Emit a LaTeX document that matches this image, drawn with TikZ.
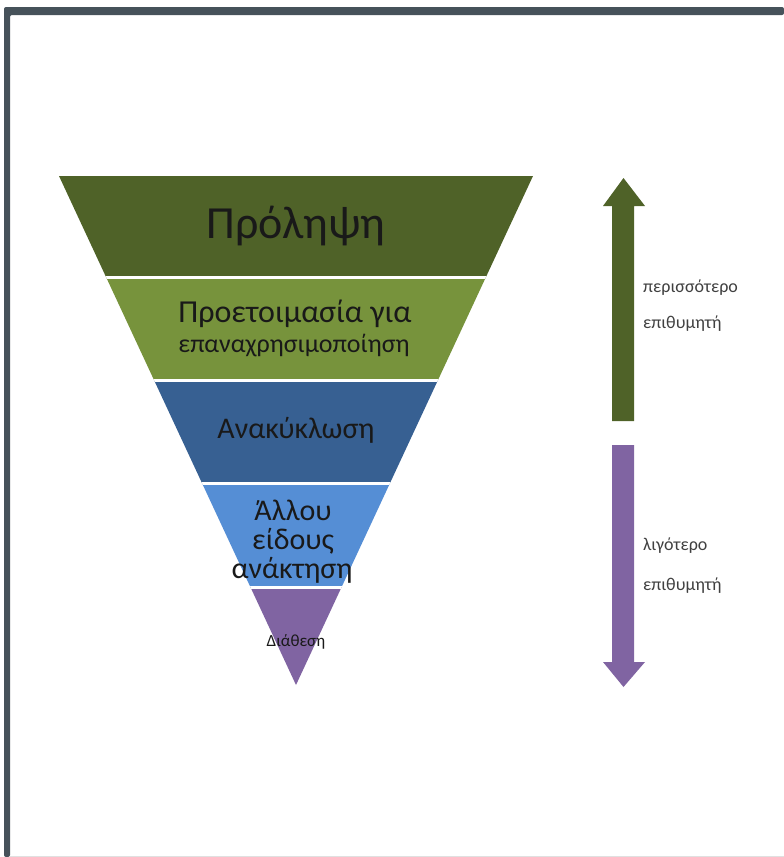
\documentclass[tikz,border=0pt]{standalone}
\usepackage{fontspec}
\setmainfont{Carlito}
\usetikzlibrary{calc}

\definecolor{framegray}{HTML}{46525A}
\definecolor{prevgreen}{HTML}{4F6228}
\definecolor{reusegreen}{HTML}{77933C}
\definecolor{recblue}{HTML}{376092}
\definecolor{recovblue}{HTML}{558ED5}
\definecolor{disppurple}{HTML}{8064A2}

\newcommand{\fsz}[1]{\fontsize{#1}{1.2\dimexpr#1pt\relax}\selectfont}

\tikzset{
  layertext/.style={anchor=base, inner sep=0pt, text=black!90},
  sidetext/.style={anchor=base west, inner sep=0pt, text=black!75, font=\fsz{18}}
}

\begin{document}
\begin{tikzpicture}[x=1pt,y=-1pt]
  \useasboundingbox (0,0) rectangle (784,857);
  % frame
  \fill[framegray, rounded corners=2pt] (4,857) -- (4,7) -- (784,7) -- (784,15) -- (10,15) -- (10,857) -- cycle;
  \draw[black!12] (10,856.5) -- (784,856.5);
  %coordinates
  \coordinate (TL) at (59,176);
  \coordinate (TR) at (533,176);
  \coordinate (Apex) at (296,685);
  % bands
  \begin{scope}
    \clip (TL) -- (TR) -- (Apex) -- cycle;
    \fill[prevgreen] (0,170) rectangle (784,277.5);
    \fill[reusegreen] (0,277.5) rectangle (784,380);
    \fill[recblue] (0,380) rectangle (784,483.5);
    \fill[recovblue] (0,483.5) rectangle (784,587);
    \fill[disppurple] (0,587) rectangle (784,690);
    \foreach \y in {277.5,380,483.5,587}
      \draw[white, line width=3pt] (0,\y) -- (784,\y);
  \end{scope}
  % layer labels
  \node[layertext, font=\fsz{46}] (prevent) at (296,238) {Πρόληψη};
  \node[layertext, font=\fsz{32}] (prepA) at (295,322) {Προετοιμασία για};
  \node[layertext, font=\fsz{26}] (prepB) at (294,352) {επαναχρησιμοποίηση};
  \node[layertext, font=\fsz{30}] (recycle) at (296,438) {Ανακύκλωση};
  \node[layertext, font=\fsz{30}] (otherA) at (293,520) {Άλλου};
  \node[layertext, font=\fsz{30}] (otherB) at (293,549) {είδους};
  \node[layertext, font=\fsz{30}] (otherC) at (292,578) {ανάκτηση};
  \node[layertext, font=\fsz{17}] (dispose) at (296,646) {Διάθεση};
  % arrows
  \fill[prevgreen] (612,421) -- (612,206) -- (603,206) -- (623.5,178) -- (645,206) -- (634,206) -- (634,421) -- cycle;
  \fill[disppurple] (612,445) -- (612,662) -- (603,662) -- (623.5,687) -- (645,662) -- (634,662) -- (634,445) -- cycle;
  \node[sidetext] (moreA) at (643,292) {περισσότερο};
  \node[sidetext] (moreB) at (643,328) {επιθυμητή};
  \node[sidetext] (lessA) at (643,550) {λιγότερο};
  \node[sidetext] (lessB) at (643,590) {επιθυμητή};
\end{tikzpicture}
\end{document}
